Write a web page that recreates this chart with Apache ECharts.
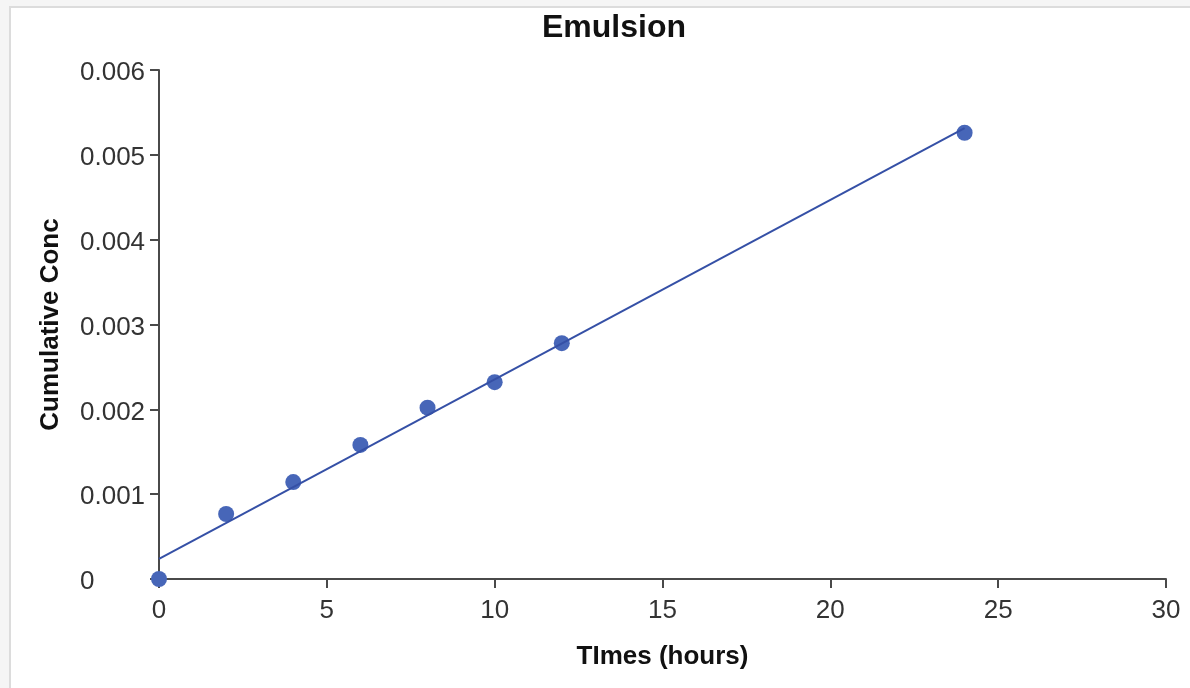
<!DOCTYPE html>
<html>
<head>
<meta charset="utf-8">
<script src="https://cdn.jsdelivr.net/npm/echarts@6/dist/echarts.min.js"></script>
<style>
  html, body { margin: 0; padding: 0; background: #f5f5f5; }
  .frame {
    position: absolute; left: 9px; top: 6px; right: 0; bottom: 0;
    background: #fff;
    border-left: 2px solid #dcdcdc;
    border-top: 2px solid #dcdcdc;
  }
  #chart { position: absolute; left: 0; top: 0; width: 1190px; height: 688px; }
</style>
</head>
<body>
<div class="frame"></div>
<div id="chart"></div>
<script>
// measured data (hours, cumulative conc)
const times = [0, 2, 4, 6, 8, 10, 12, 24];
const conc = [0, 0.000766, 0.001143, 0.00158, 0.00202, 0.00232, 0.00278, 0.00526];
// fitted line endpoints
const fitX = [0, 24];
const fitY = [0.000236, 0.005316];

const font = "'Liberation Sans', Arial, Helvetica, sans-serif";
const axisColor = "#4a4a4a";

const chart = echarts.init(document.getElementById("chart"), null, { renderer: "canvas" });
chart.setOption({
  animation: false,
  backgroundColor: "transparent",
  title: {
    text: "Emulsion",
    left: 537,
    top: 7,
    textStyle: { fontFamily: font, fontSize: 32, fontWeight: "bold", color: "#111" },
  },
  grid: { left: 159, right: 24, top: 70, bottom: 109 },
  xAxis: {
    type: "value",
    min: 0,
    max: 30,
    interval: 5,
    name: "TImes (hours)",
    nameLocation: "middle",
    nameGap: 65,
    nameTextStyle: { fontFamily: font, fontSize: 26, fontWeight: "bold", color: "#111" },
    axisLine: { show: true, lineStyle: { color: axisColor, width: 2 } },
    axisTick: { show: true, length: 9, lineStyle: { color: axisColor, width: 2 } },
    axisLabel: { fontFamily: font, fontSize: 26, color: "#333", margin: 19 },
    splitLine: { show: false },
  },
  yAxis: {
    type: "value",
    min: 0,
    max: 0.006,
    interval: 0.001,
    name: "Cumulative Conc",
    nameLocation: "middle",
    nameGap: 95,
    nameTextStyle: { fontFamily: font, fontSize: 26, fontWeight: "bold", color: "#111" },
    axisLine: { show: true, lineStyle: { color: axisColor, width: 2 } },
    axisTick: { show: true, length: 9, lineStyle: { color: axisColor, width: 2 } },
    axisLabel: {
      fontFamily: font,
      fontSize: 26,
      color: "#333",
      align: "left",
      margin: 79,
      formatter: (v) => "{t|" + (v === 0 ? "0" : v.toFixed(3)) + "}",
      rich: {
        t: { fontFamily: font, fontSize: 26, color: "#333", padding: [6, 0, 0, 0] },
      },
    },
    splitLine: { show: false },
  },
  series: [
    {
      type: "scatter",
      data: times.map((t, i) => [t, conc[i]]),
      symbolSize: 16,
      itemStyle: { color: "#4766b8", opacity: 1 },
      clip: false,
      z: 2,
    },
    {
      type: "line",
      data: fitX.map((t, i) => [t, fitY[i]]),
      symbol: "none",
      lineStyle: { color: "#3550a6", width: 2 },
      z: 3,
    },
  ],
});
</script>
</body>
</html>
